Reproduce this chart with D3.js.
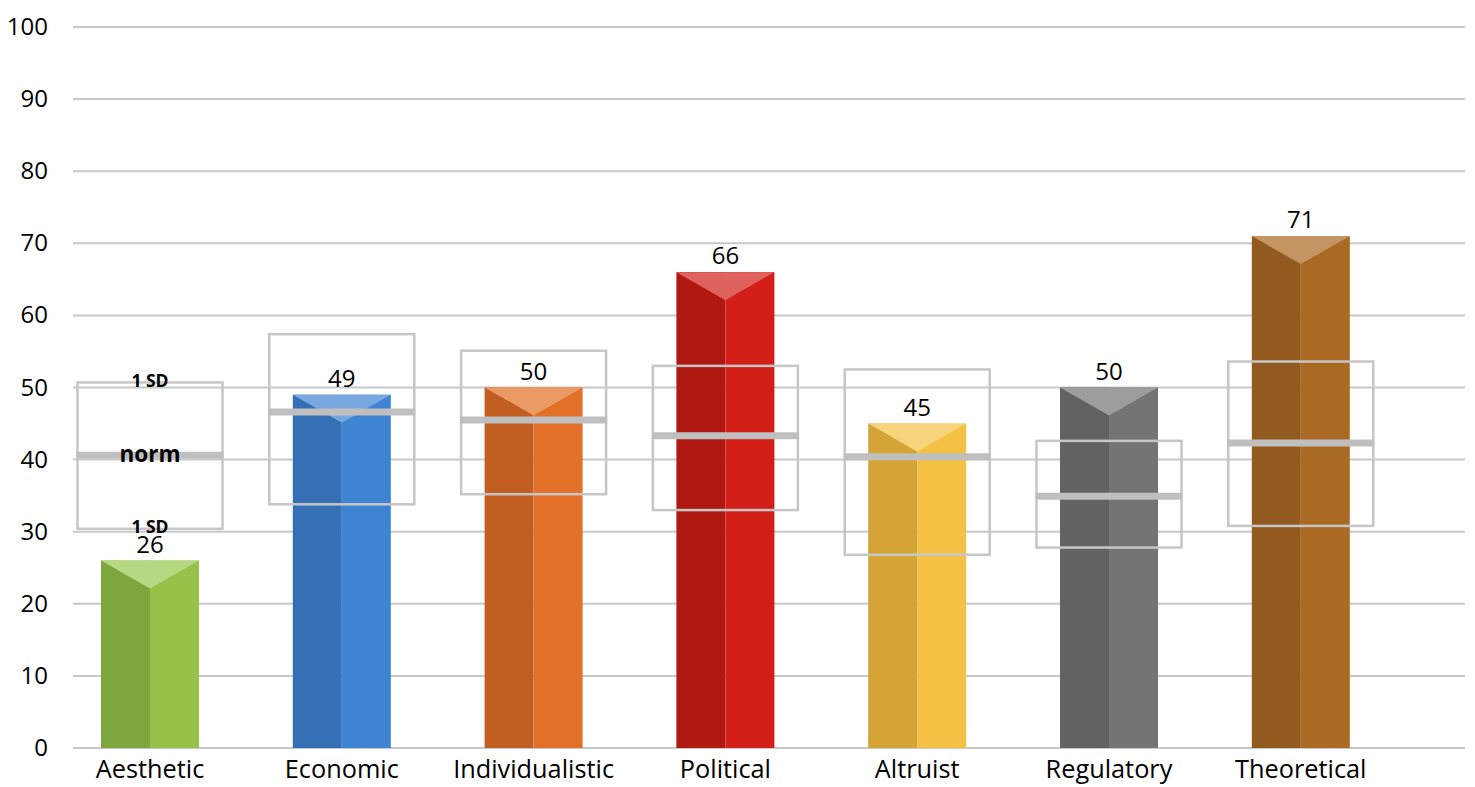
<!DOCTYPE html>
<html>
<head>
<meta charset="utf-8">
<script src="https://cdn.jsdelivr.net/npm/d3@7"></script>
<style>
  html, body { margin: 0; padding: 0; background: #ffffff; }
  svg { display: block; font-family: "Open Sans", "Noto Sans", sans-serif; }
</style>
</head>
<body>
<svg id="chart" width="1475" height="787"></svg>
<script>
const categories = ["Aesthetic", "Economic", "Individualistic", "Political", "Altruist", "Regulatory", "Theoretical"];
const scores     = [26, 49, 50, 66, 45, 50, 71];
const normValues = [40.6, 46.6, 45.5, 43.3, 40.4, 34.9, 42.3];
const sdUpper    = [50.7, 57.4, 55.1, 53.0, 52.5, 42.6, 53.6];
const sdLower    = [30.4, 33.8, 35.2, 33.0, 26.8, 27.8, 30.8];
const yTicks     = [0, 10, 20, 30, 40, 50, 60, 70, 80, 90, 100];
const darkColors  = ["#7ea63f", "#3570b5", "#c25e22", "#b01812", "#d4a536", "#626262", "#925a1e"];
const lightColors = ["#96c24a", "#3f84d3", "#e27028", "#d21f17", "#f5c144", "#747474", "#aa6a24"];
const topColors   = ["#b5d882", "#78a8e0", "#eb9a66", "#e0625c", "#f7d37b", "#9d9d9d", "#c49462"];

const svg = d3.select("#chart");
const gridX0 = 73, gridX1 = 1465;
const y = d3.scaleLinear().domain([0, 100]).range([748, 27]);
const x = d3.scaleBand().domain(categories).range([54.1, 1396.7]).paddingInner(0).paddingOuter(0);
const barW = 98, boxW = 145, tipDepth = 28;

// gridlines
svg.append("g").selectAll("line").data(yTicks).join("line")
  .attr("x1", gridX0).attr("x2", gridX1)
  .attr("y1", d => y(d)).attr("y2", d => y(d))
  .attr("stroke", "#c8c8c8").attr("stroke-width", 2);

// y labels
svg.append("g").selectAll("text").data(yTicks).join("text")
  .attr("x", 48).attr("y", d => y(d) + 8)
  .attr("text-anchor", "end").attr("font-size", 24).attr("fill", "#000")
  .text(d => d);

const cx = d => x(d) + x.bandwidth() / 2;

// bars
const bars = svg.append("g").selectAll("g").data(categories).join("g");
bars.append("rect")
  .attr("x", d => cx(d) - barW / 2).attr("width", barW / 2)
  .attr("y", (d, i) => y(scores[i])).attr("height", (d, i) => y(0) - y(scores[i]))
  .attr("fill", (d, i) => darkColors[i]);
bars.append("rect")
  .attr("x", d => cx(d)).attr("width", barW / 2)
  .attr("y", (d, i) => y(scores[i])).attr("height", (d, i) => y(0) - y(scores[i]))
  .attr("fill", (d, i) => lightColors[i]);
bars.append("path")
  .attr("d", (d, i) => {
    const t = y(scores[i]), c = cx(d);
    return `M${c - barW / 2},${t}L${c + barW / 2},${t}L${c},${t + tipDepth}Z`;
  })
  .attr("fill", (d, i) => topColors[i]);

// SD boxes
const boxes = svg.append("g").selectAll("g").data(categories).join("g");
boxes.append("rect")
  .attr("x", d => cx(d) - boxW / 2).attr("width", boxW)
  .attr("y", (d, i) => y(sdUpper[i])).attr("height", (d, i) => y(sdLower[i]) - y(sdUpper[i]))
  .attr("fill", "none").attr("stroke", "#c6c6c6").attr("stroke-width", 2.5);
boxes.append("line")
  .attr("x1", d => cx(d) - boxW / 2 - 1).attr("x2", d => cx(d) + boxW / 2 + 1)
  .attr("y1", (d, i) => y(normValues[i])).attr("y2", (d, i) => y(normValues[i]))
  .attr("stroke", "#bfbfbf").attr("stroke-width", 7);

// value labels
svg.append("g").selectAll("text").data(categories).join("text")
  .attr("x", d => cx(d)).attr("y", (d, i) => y(scores[i]) - 8)
  .attr("text-anchor", "middle").attr("font-size", 24).attr("fill", "#000")
  .text((d, i) => scores[i]);

// annotation for first box
const a = categories[0];
svg.append("text").attr("x", cx(a)).attr("y", y(sdUpper[0]) + 5)
  .attr("text-anchor", "middle").attr("font-size", 17.5).attr("font-weight", "bold").text("1 SD");
svg.append("text").attr("x", cx(a)).attr("y", y(normValues[0]) + 7)
  .attr("text-anchor", "middle").attr("font-size", 22.5).attr("font-weight", "bold").text("norm");
svg.append("text").attr("x", cx(a)).attr("y", y(sdLower[0]) + 4)
  .attr("text-anchor", "middle").attr("font-size", 17.5).attr("font-weight", "bold").text("1 SD");

// category labels
svg.append("g").selectAll("text").data(categories).join("text")
  .attr("x", d => cx(d)).attr("y", 778)
  .attr("text-anchor", "middle").attr("font-size", 25.3).attr("fill", "#000")
  .text(d => d);
</script>
</body>
</html>
